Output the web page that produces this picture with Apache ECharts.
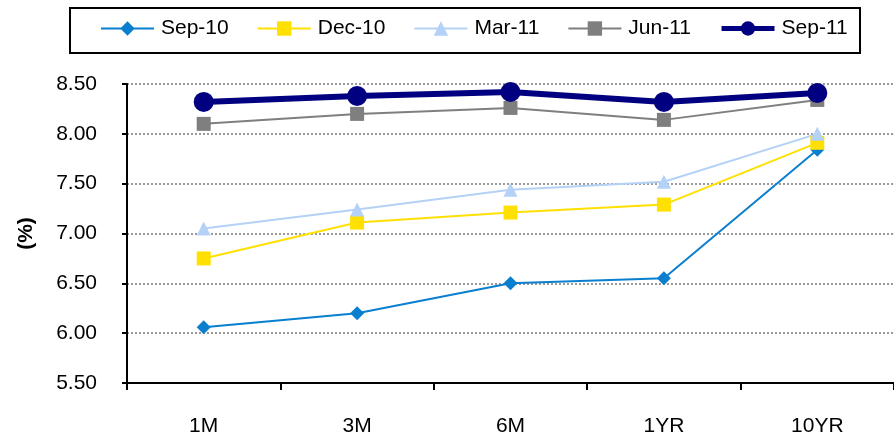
<!DOCTYPE html>
<html>
<head>
<meta charset="utf-8">
<script src="https://cdn.jsdelivr.net/npm/echarts@6/dist/echarts.min.js"></script>
<style>
  html, body { margin: 0; padding: 0; background: #fff; }
  #chart { width: 894px; height: 437px; }
</style>
</head>
<body>
<div id="chart"></div>
<script>
// Yield curve snapshots by tenor
const tenors = ['1M', '3M', '6M', '1YR', '10YR'];
const sep10 = [6.06, 6.20, 6.50, 6.55, 7.84];
const dec10 = [6.75, 7.11, 7.21, 7.29, 7.91];
const mar11 = [7.05, 7.24, 7.44, 7.52, 8.00];
const jun11 = [8.10, 8.20, 8.26, 8.14, 8.34];
const sep11 = [8.32, 8.38, 8.42, 8.32, 8.41];
const yTicks = [5.5, 6.0, 6.5, 7.0, 7.5, 8.0, 8.5];

const font = 'Liberation Sans, Arial, sans-serif';

function line(name, data, color, symbol, size, width) {
  return {
    name, type: 'line', data,
    symbol, symbolSize: size,
    lineStyle: { color, width },
    itemStyle: { color },
    animation: false
  };
}

const chart = echarts.init(document.getElementById('chart'));
chart.setOption({
  animation: false,
  graphic: [{
    type: 'rect',
    shape: { x: 70, y: 8, width: 790, height: 45 },
    style: { fill: '#fff', stroke: '#000', lineWidth: 2 },
    z: 0
  }],
  legend: {
    top: 18,
    left: 100,
    padding: 0,
    itemWidth: 53,
    itemHeight: 18,
    itemGap: 28,
    textStyle: { fontFamily: font, fontSize: 21, color: '#000', padding: [0, 0, 0, 2] },
    data: [
      { name: 'Sep-10', lineStyle: { width: 2 } },
      { name: 'Dec-10', lineStyle: { width: 2 } },
      { name: 'Mar-11', lineStyle: { width: 2 } },
      { name: 'Jun-11', lineStyle: { width: 2 } },
      { name: 'Sep-11', lineStyle: { width: 5 } }
    ]
  },
  grid: { left: 127, right: 0, top: 84, bottom: 52 },
  xAxis: {
    type: 'category',
    data: tenors,
    boundaryGap: true,
    axisLine: { lineStyle: { color: '#000', width: 2 } },
    axisTick: { show: true, length: 7, lineStyle: { color: '#000', width: 2 } },
    axisLabel: { fontFamily: font, fontSize: 21, color: '#000', margin: 33 }
  },
  yAxis: {
    type: 'value',
    min: yTicks[0],
    max: yTicks[yTicks.length - 1],
    interval: 0.5,
    name: '(%)',
    nameLocation: 'middle',
    nameGap: 90,
    nameRotate: 90,
    nameTextStyle: { fontFamily: font, fontSize: 21, fontWeight: 'bold', color: '#000' },
    axisLine: { show: true, lineStyle: { color: '#000', width: 2 } },
    axisTick: { show: true, length: 5, lineStyle: { color: '#000', width: 2 } },
    axisLabel: {
      fontFamily: font, fontSize: 21, color: '#000', margin: 30,
      formatter: v => v.toFixed(2)
    },
    splitLine: { lineStyle: { color: '#999', type: [2, 2], width: 2 } }
  },
  series: [
    line('Sep-10', sep10, '#0a7fd0', 'diamond', 14, 2),
    line('Dec-10', dec10, '#ffe000', 'rect', 14, 2),
    line('Mar-11', mar11, '#b4d1f6', 'triangle', 14, 2),
    line('Jun-11', jun11, '#7f7f7f', 'rect', 14, 2),
    line('Sep-11', sep11, '#000080', 'circle', 20, 6)
  ]
});
</script>
</body>
</html>
